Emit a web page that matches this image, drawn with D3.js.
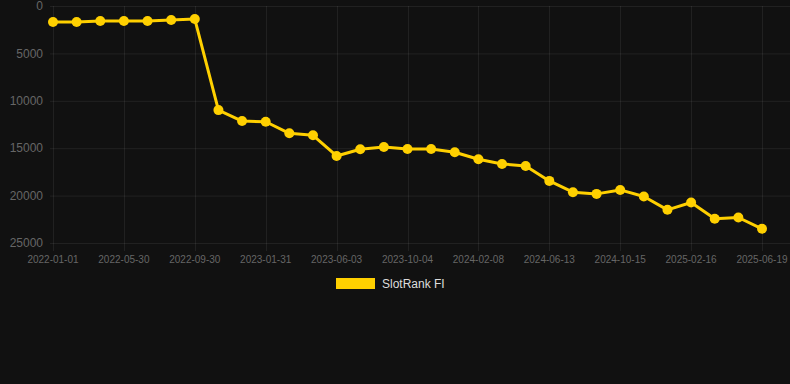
<!DOCTYPE html>
<html>
<head>
<meta charset="utf-8">
<script src="https://cdn.jsdelivr.net/npm/d3@7"></script>
<style>
    html, body { margin: 0; padding: 0; background: #111111; }
    svg { display: block; font-family: "Liberation Sans", Arial, sans-serif; }
</style>
</head>
<body>
<svg id="chart" width="790" height="384"></svg>
<script>
// Data.
const dates = [
    "2022-01-01", "2022-02-19", "2022-04-10", "2022-05-30", "2022-07-10",
    "2022-08-20", "2022-09-30", "2022-11-10", "2022-12-21", "2023-01-31",
    "2023-03-13", "2023-04-23", "2023-06-03", "2023-07-14", "2023-08-24",
    "2023-10-04", "2023-11-15", "2023-12-27", "2024-02-08", "2024-03-20",
    "2024-05-02", "2024-06-13", "2024-07-24", "2024-09-03", "2024-10-15",
    "2024-11-25", "2025-01-06", "2025-02-16", "2025-03-30", "2025-05-09",
    "2025-06-19"
];
const ranks = [
    1690, 1690, 1590, 1590, 1590, 1480, 1380, 10980, 12140, 12210,
    13430, 13640, 15820, 15110, 14870, 15080, 15080, 15430, 16170, 16660,
    16870, 18450, 19640, 19820, 19400, 20100, 21500, 20730, 22450, 22310,
    23500
];
const yTicks = [0, 5000, 10000, 15000, 20000, 25000];
const seriesName = "SlotRank FI";
const lineColor = "#ffd000";

const svg = d3.select("#chart");
const gridColor = "rgba(255,255,255,0.07)";
const tickColor = "#666666";

// Scales.
const x = d3.scalePoint().domain(dates).range([53, 762]);
const y = d3.scaleLinear().domain([0, 25000]).range([6, 243]);

// Horizontal grid + y labels.
const yAxis = svg.append("g");
yAxis.selectAll("line")
    .data(yTicks)
    .join("line")
    .attr("x1", 50)
    .attr("x2", 790)
    .attr("y1", (d) => y(d) + 0.5)
    .attr("y2", (d) => y(d) + 0.5)
    .attr("stroke", gridColor);
yAxis.selectAll("text")
    .data(yTicks)
    .join("text")
    .attr("x", 43)
    .attr("y", (d) => y(d))
    .attr("dy", "0.35em")
    .attr("text-anchor", "end")
    .attr("fill", tickColor)
    .attr("font-size", 12)
    .text((d) => d);

// Vertical grid + x labels (every third category is labelled).
const shown = dates.filter((d, i) => i % 3 === 0);
const xAxis = svg.append("g");
xAxis.selectAll("line")
    .data(shown)
    .join("line")
    .attr("x1", (d) => Math.round(x(d)) + 0.5)
    .attr("x2", (d) => Math.round(x(d)) + 0.5)
    .attr("y1", 6)
    .attr("y2", 251)
    .attr("stroke", gridColor);
xAxis.selectAll("text")
    .data(shown)
    .join("text")
    .attr("x", (d) => x(d))
    .attr("y", 259)
    .attr("dy", "0.35em")
    .attr("text-anchor", "middle")
    .attr("fill", tickColor)
    .attr("font-size", 10)
    .text((d) => d);

// Line and points.
const line = d3.line()
    .x((d, i) => x(dates[i]))
    .y((d) => y(d));
svg.append("path")
    .datum(ranks)
    .attr("d", line)
    .attr("fill", "none")
    .attr("stroke", lineColor)
    .attr("stroke-width", 3)
    .attr("stroke-linejoin", "round");
svg.append("g")
    .selectAll("circle")
    .data(ranks)
    .join("circle")
    .attr("cx", (d, i) => x(dates[i]))
    .attr("cy", (d) => y(d))
    .attr("r", 5)
    .attr("fill", lineColor);

// Legend.
const legend = svg.append("g").attr("transform", "translate(336,278)");
legend.append("rect")
    .attr("width", 39)
    .attr("height", 11)
    .attr("fill", lineColor);
legend.append("text")
    .attr("x", 46)
    .attr("y", 6)
    .attr("dy", "0.35em")
    .attr("fill", "#dddddd")
    .attr("font-size", 12)
    .text(seriesName);
</script>
</body>
</html>
